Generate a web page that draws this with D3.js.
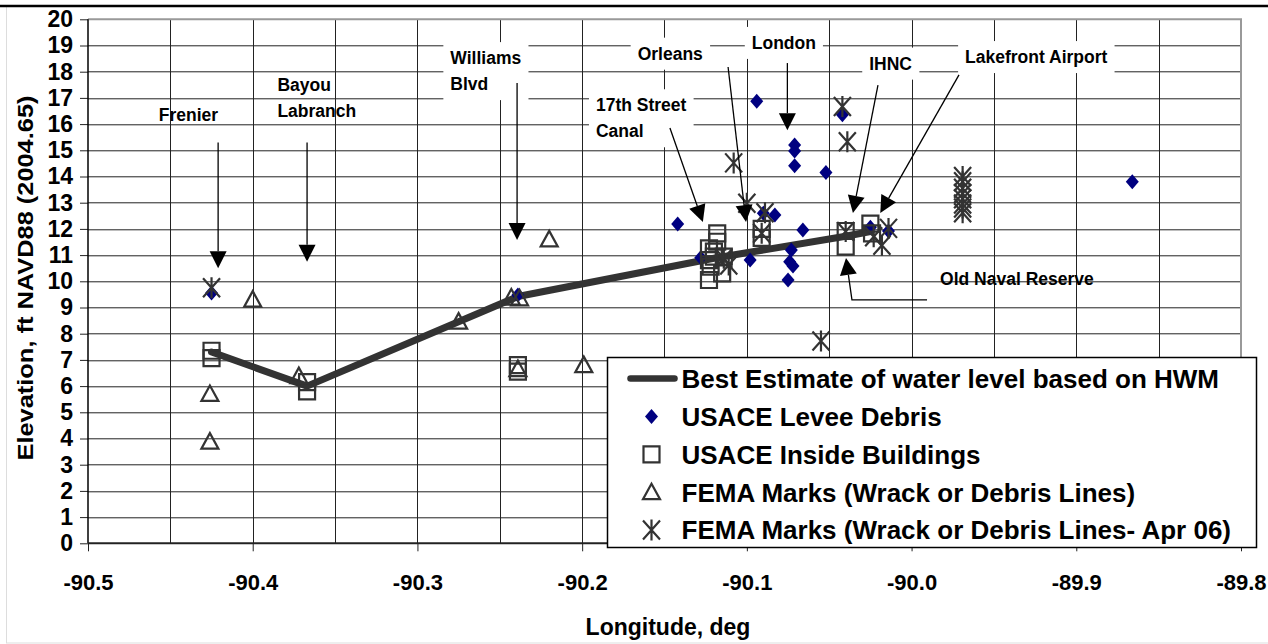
<!DOCTYPE html>
<html>
<head>
<meta charset="utf-8">
<script src="https://cdn.jsdelivr.net/npm/d3@7"></script>
<style>
  body { margin: 0; background: #fff; }
  svg text { font-family: "Liberation Sans", Arial, sans-serif; font-weight: bold; fill: #000; }
</style>
</head>
<body>
<div id="chart"></div>
<script>
// ---- data (longitude, elevation ft) ----
const bestEstimate = [
  [-90.425, 7.3], [-90.367, 6.0], [-90.239, 9.42], [-90.12, 10.88], [-90.04, 11.72], [-90.025, 11.9]
];

const leveeDebris = [
  [-90.425, 9.55], [-90.239, 9.48], [-90.142, 12.19], [-90.128, 10.9], [-90.094, 16.87],
  [-90.090, 12.6], [-90.083, 12.53], [-90.098, 10.81], [-90.066, 11.96], [-90.073, 11.19],
  [-90.074, 10.75], [-90.072, 10.58], [-90.075, 10.05], [-90.071, 15.2], [-90.071, 14.97],
  [-90.071, 14.41], [-90.052, 14.15], [-90.042, 16.36], [-90.025, 12.06], [-90.014, 11.92],
  [-89.866, 13.8]
];

const insideBuildings = [
  [-90.425, 7.35], [-90.425, 7.07], [-90.367, 6.15], [-90.367, 5.8], [-90.239, 6.8], [-90.239, 6.55],
  [-90.118, 11.83], [-90.118, 11.51], [-90.120, 11.13], [-90.123, 11.26], [-90.123, 10.81],
  [-90.122, 10.56], [-90.123, 10.05], [-90.115, 10.3], [-90.114, 10.94], [-90.120, 10.94],
  [-90.091, 12.0], [-90.091, 11.66], [-90.040, 11.92], [-90.040, 11.32], [-90.025, 12.2], [-90.024, 11.83]
];

const femaMarks = [
  [-90.426, 5.7], [-90.426, 3.88], [-90.400, 9.3], [-90.372, 6.38], [-90.275, 8.46],
  [-90.243, 9.38], [-90.238, 9.35], [-90.239, 6.65], [-90.220, 11.6], [-90.199, 6.8]
];

const femaMarksApr06 = [
  [-90.425, 9.75], [-90.108, 14.52], [-90.100, 12.98], [-90.089, 12.62], [-90.091, 11.83],
  [-90.114, 10.88], [-90.111, 10.62], [-90.055, 7.72], [-90.042, 16.67], [-90.039, 15.33],
  [-90.040, 11.9], [-90.023, 11.7], [-90.014, 12.02], [-90.018, 11.38],
  [-89.969, 14.0], [-89.969, 13.8], [-89.969, 13.55], [-89.969, 13.35], [-89.969, 13.15],
  [-89.969, 12.95], [-89.969, 12.8], [-89.969, 12.62]
];

const xTicks = [-90.5, -90.4, -90.3, -90.2, -90.1, -90.0, -89.9, -89.8];
const yTicks = [0, 1, 2, 3, 4, 5, 6, 7, 8, 9, 10, 11, 12, 13, 14, 15, 16, 17, 18, 19, 20];

const seriesNames = [
  "Best Estimate of water level based on HWM",
  "USACE Levee Debris",
  "USACE Inside Buildings",
  "FEMA Marks (Wrack or Debris Lines)",
  "FEMA Marks (Wrack or Debris Lines- Apr 06)"
];

// annotation labels: text anchor (lon, elev of first line), arrow path in data units
const annotations = [
  { lines: ["Frenier"], at: [-90.457, 16.35], box: false, arrow: [[-90.421, 15.3], [-90.421, 10.5]] },
  { lines: ["Bayou", "Labranch"], at: [-90.385, 17.5], box: false, arrow: [[-90.367, 15.3], [-90.367, 10.75]] },
  { lines: ["Williams", "Blvd"], at: [-90.280, 18.53], box: true, arrow: [[-90.2395, 17.57], [-90.2395, 11.58]] },
  { lines: ["17th Street", "Canal"], at: [-90.1916, 16.73], box: true, arrow: [[-90.1467, 15.85], [-90.1267, 12.26]] },
  { lines: ["Orleans"], at: [-90.1663, 18.7], box: true, arrow: [[-90.1114, 18.18], [-90.1005, 12.26]] },
  { lines: ["London"], at: [-90.097, 19.11], box: true, arrow: [[-90.0754, 18.33], [-90.0754, 15.77]] },
  { lines: ["IHNC"], at: [-90.0257, 18.32], box: true, arrow: [[-90.0204, 17.49], [-90.0356, 12.61]] },
  { lines: ["Lakefront Airport"], at: [-89.9675, 18.57], box: true, arrow: [[-89.9712, 17.88], [-90.019, 12.61]] },
  { lines: ["Old Naval Reserve"], at: [-89.9827, 10.11], box: false, arrow: [[-89.9906, 9.29], [-90.0362, 9.29], [-90.0398, 10.89]] }
];

// ---- layout ----
const W = 1268, H = 644;
const margin = { top: 19.3, right: 27, bottom: 100.7, left: 88 };
const width = W - margin.left - margin.right;
const height = H - margin.top - margin.bottom;

const svg = d3.select("#chart").append("svg")
  .attr("width", W)
  .attr("height", H);

// outer frame
svg.append("rect")
  .attr("x", 6.5).attr("y", 6).attr("width", W - 6).attr("height", 637)
  .attr("fill", "none").attr("stroke", "#ddd");
svg.append("line")
  .attr("x1", 0).attr("x2", W).attr("y1", 6).attr("y2", 6)
  .attr("stroke", "#000").attr("stroke-width", 2.5);

const g = svg.append("g").attr("transform", `translate(${margin.left},${margin.top})`);

const x = d3.scaleLinear().domain([-90.5, -89.8]).range([0, width]);
const y = d3.scaleLinear().domain([0, 20]).range([height, 0]);

// grid
const vGrid = d3.range(1, 14).map(i => -90.5 + i * 0.05);
g.append("g").selectAll("line").data(vGrid).join("line")
  .attr("x1", d => Math.round(x(d)) + 0.5).attr("x2", d => Math.round(x(d)) + 0.5)
  .attr("y1", 0).attr("y2", height)
  .attr("stroke", "#222").attr("stroke-width", 1);
g.append("g").selectAll("line").data(yTicks.slice(1, -1)).join("line")
  .attr("x1", 0).attr("x2", width)
  .attr("y1", d => Math.round(y(d)) + 0.5).attr("y2", d => Math.round(y(d)) + 0.5)
  .attr("stroke", "#222").attr("stroke-width", 1);

// plot border (top / right grey)
g.append("path")
  .attr("d", `M0,0H${width}V${height}`)
  .attr("fill", "none").attr("stroke", "#999").attr("stroke-width", 2);

// axes
const yAxis = g.append("g")
  .call(d3.axisLeft(y).tickValues(yTicks).tickSize(8).tickPadding(7));
yAxis.select(".domain").remove();
yAxis.selectAll("line").attr("stroke", "#222");
yAxis.selectAll("text").style("font-size", "23px").attr("font-family", null);

const xAxis = g.append("g")
  .attr("transform", `translate(0,${height})`)
  .call(d3.axisBottom(x).tickValues(xTicks).tickSize(8).tickPadding(23).tickFormat(d => d.toFixed(1)));
xAxis.select(".domain").remove();
xAxis.selectAll("line").attr("stroke", "#222");
xAxis.selectAll("text").style("font-size", "22px").attr("font-family", null);

g.append("line").attr("x1", 0).attr("x2", 0).attr("y1", 0).attr("y2", height)
  .attr("stroke", "#000").attr("stroke-width", 1.5);
g.append("line").attr("x1", 0).attr("x2", width).attr("y1", height).attr("y2", height)
  .attr("stroke", "#222").attr("stroke-width", 2);

// axis titles
svg.append("text")
  .attr("transform", "translate(33,278) rotate(-90)")
  .attr("text-anchor", "middle")
  .attr("textLength", 365).attr("lengthAdjust", "spacingAndGlyphs")
  .style("font-size", "22px")
  .text("Elevation, ft NAVD88 (2004.65)");
svg.append("text")
  .attr("x", 668).attr("y", 635)
  .attr("text-anchor", "middle")
  .style("font-size", "23px")
  .text("Longitude, deg");

// marker shapes
const markerPath = {
  diamond: "M0,-7.5L6.5,0L0,7.5L-6.5,0Z",
  square: "M-8,-8H8V8H-8Z",
  triangle: "M0,-8.5L8.5,7L-8.5,7Z",
  star: "M-8.5,-9.5L8.5,9.5M8.5,-9.5L-8.5,9.5M0,-10.5V10.5"
};
const gray = "#333";

// best estimate line
const line = d3.line().x(d => x(d[0])).y(d => y(d[1]));
g.append("path").datum(bestEstimate)
  .attr("d", line)
  .attr("fill", "none").attr("stroke", gray).attr("stroke-width", 7)
  .attr("stroke-linejoin", "round").attr("stroke-linecap", "round");

function drawMarkers(data, shape, fill, stroke) {
  g.append("g").selectAll("path").data(data).join("path")
    .attr("transform", d => `translate(${x(d[0])},${y(d[1])})`)
    .attr("d", markerPath[shape])
    .attr("fill", fill).attr("stroke", stroke)
    .attr("stroke-width", stroke === "none" ? 0 : 2.2);
}
drawMarkers(leveeDebris, "diamond", "#000080", "none");
drawMarkers(insideBuildings, "square", "none", gray);
drawMarkers(femaMarks, "triangle", "none", gray);
drawMarkers(femaMarksApr06, "star", "none", gray);

// annotations
const ann = g.append("g");
function arrowHead(p0, p1) {
  const dx = p1[0] - p0[0], dy = p1[1] - p0[1];
  const len = Math.hypot(dx, dy), ux = dx / len, uy = dy / len;
  const hl = 17, hw = 8.5;
  const bx = p1[0] - ux * hl, by = p1[1] - uy * hl;
  return {
    base: [bx, by],
    d: `M${p1[0]},${p1[1]}L${bx - uy * hw},${by + ux * hw}L${bx + uy * hw},${by - ux * hw}Z`
  };
}
annotations.forEach(a => {
  const ag = ann.append("g");
  const t = ag.append("text")
    .attr("x", x(a.at[0])).attr("y", y(a.at[1]))
    .style("font-size", "17.5px");
  a.lines.forEach((s, i) => {
    t.append("tspan").attr("x", x(a.at[0])).attr("dy", i === 0 ? "0.36em" : 26).text(s);
  });
  if (a.box) {
    const bb = t.node().getBBox();
    ag.insert("rect", "text")
      .attr("x", bb.x - 7).attr("y", bb.y - 6)
      .attr("width", bb.width + 14).attr("height", bb.height + 12)
      .attr("fill", "#fff");
  }
  const pts = a.arrow.map(p => [x(p[0]), y(p[1])]);
  const head = arrowHead(pts[pts.length - 2], pts[pts.length - 1]);
  const shaft = pts.slice(0, -1).concat([head.base]);
  ag.append("path")
    .attr("d", d3.line()(shaft))
    .attr("fill", "none").attr("stroke", "#000").attr("stroke-width", 1.3);
  ag.append("path").attr("d", head.d).attr("fill", "#000");
});

// legend
const legend = svg.append("g").attr("transform", "translate(607.5,357.5)");
legend.append("rect")
  .attr("width", 649).attr("height", 190)
  .attr("fill", "#fff").attr("stroke", "#000").attr("stroke-width", 1.5);
const shapes = ["line", "diamond", "square", "triangle", "star"];
seriesNames.forEach((name, i) => {
  const row = legend.append("g").attr("transform", `translate(0,${21 + i * 37.9})`);
  const s = shapes[i];
  if (s === "line") {
    row.append("line").attr("x1", 23).attr("x2", 67)
      .attr("stroke", gray).attr("stroke-width", 6.5).attr("stroke-linecap", "round");
  } else {
    row.append("path")
      .attr("transform", "translate(44,0)")
      .attr("d", markerPath[s])
      .attr("fill", s === "diamond" ? "#000080" : "none")
      .attr("stroke", s === "diamond" ? "none" : gray)
      .attr("stroke-width", 2.2);
  }
  row.append("text")
    .attr("x", 74).attr("dy", "0.36em")
    .style("font-size", "26px")
    .text(name);
});
</script>
</body>
</html>
